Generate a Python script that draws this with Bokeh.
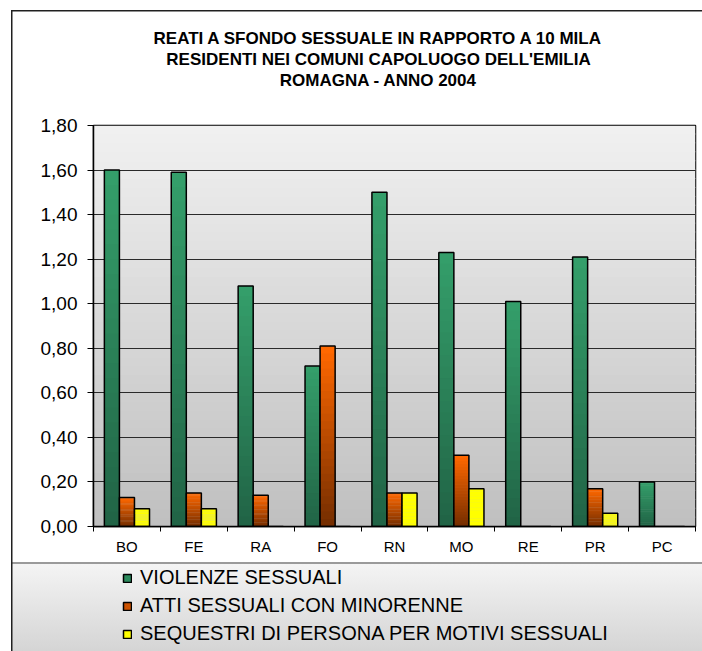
from bokeh.plotting import figure
from bokeh.layouts import column
from bokeh.models import (Range1d, FixedTicker, CustomJSTickFormatter, Label,
                          BoxAnnotation, Legend, LegendItem, ColumnDataSource)
from bokeh.core.properties import field
from bokeh.transform import dodge
from bokeh.embed import file_html
from bokeh.resources import INLINE

# ---------------- data ----------------
categories = ["BO", "FE", "RA", "FO", "RN", "MO", "RE", "PR", "PC"]
violenze_sessuali = [1.60, 1.59, 1.08, 0.72, 1.50, 1.23, 1.01, 1.21, 0.20]
atti_con_minorenne = [0.13, 0.15, 0.14, 0.81, 0.15, 0.32, 0.00, 0.17, 0.00]
sequestri_persona = [0.08, 0.08, 0.00, 0.00, 0.15, 0.17, 0.00, 0.06, 0.00]
series_names = ["VIOLENZE SESSUALI",
                "ATTI SESSUALI CON MINORENNE",
                "SEQUESTRI DI PERSONA PER MOTIVI SESSUALI"]
title_lines = ["REATI A SFONDO SESSUALE IN RAPPORTO A 10 MILA",
               "RESIDENTI NEI COMUNI CAPOLUOGO DELL'EMILIA",
               "ROMAGNA - ANNO 2004"]
y_ticks = [0.0, 0.2, 0.4, 0.6, 0.8, 1.0, 1.2, 1.4, 1.6, 1.8]

# ---------------- layout (page pixels) ----------------
W = 702
ML, MR = 93, 7                 # plot area spans x 93..695
T_H = 100                      # title strip   0..100
C_H, C_MT, C_MB = 462, 25, 36  # chart 100..562, plot area 125..526
L_H = 89                       # legend strip 562..651
FONT = "Liberation Sans"


def lerp(c0, c1, t):
    return "#%02x%02x%02x" % tuple(int(round(a + (b - a) * t)) for a, b in zip(c0, c1))


n = len(categories)
slot = [i + 0.5 for i in range(n)]   # category centre on a 0..n axis

LINE = "linear-gradient(#202020, #202020)"
bg_title = f"{LINE} 10.5px 9.5px / 1.5px 100% no-repeat, {LINE} 10.5px 9.5px / 100% 1.5px no-repeat, #ffffff"
bg_chart = f"{LINE} 10.5px 0px / 1.5px 100% no-repeat, #ffffff"
bg_leg = (f"{LINE} 10.5px 0px / 1.5px 100% no-repeat, "
          "linear-gradient(#9a9a9a, #9a9a9a) 12px 0px / 100% 2px no-repeat, "
          "linear-gradient(#f4f4f4, #d4d4d4) 12px 2px / 100% 100% no-repeat, #ffffff")

# ---------------- title strip ----------------
t = figure(width=W, height=T_H, x_range=Range1d(ML, W - MR), y_range=Range1d(T_H, 0),
           output_backend="svg", toolbar_location=None, title=None,
           x_axis_location=None, y_axis_location=None,
           min_border_left=ML, min_border_right=MR, min_border_top=0, min_border_bottom=0,
           border_fill_color=None, background_fill_color=None, outline_line_color=None,
           styles={"background": bg_title})
t.grid.visible = False
for line, yc in zip(title_lines, [38, 59, 80]):
    t.add_layout(Label(x=378, y=yc, text=line, text_align="center", text_baseline="middle",
                       text_font=FONT, text_font_style="bold", text_font_size="17px",
                       text_color="black"))

# ---------------- chart ----------------
p = figure(width=W, height=C_H, x_range=Range1d(0, n), y_range=Range1d(0, 1.8),
           output_backend="svg", toolbar_location=None, title=None,
           min_border_left=ML, min_border_right=MR, min_border_top=C_MT, min_border_bottom=C_MB,
           border_fill_color=None, background_fill_color="#d8d8d8",
           outline_line_color="black", outline_line_width=1.5,
           styles={"background": bg_chart})

NB = 45
for i in range(NB):
    y0 = 1.8 * i / NB
    y1 = 1.8 * (i + 1) / NB + 0.004
    p.add_layout(BoxAnnotation(bottom=y0, top=min(y1, 1.8),
                               fill_color=lerp((192, 192, 192), (240, 240, 240), i / (NB - 1)),
                               fill_alpha=1, line_color=None, level="image"))

p.yaxis.ticker = FixedTicker(ticks=y_ticks)
p.yaxis.formatter = CustomJSTickFormatter(code="return tick.toFixed(2).replace('.', ',');")
p.yaxis.major_tick_in = 0
p.yaxis.major_tick_out = 6
p.yaxis.minor_tick_line_color = None
p.yaxis.axis_line_color = "black"
p.yaxis.axis_line_width = 1.5
p.yaxis.major_tick_line_color = "black"
p.yaxis.major_label_standoff = 10
p.yaxis.major_label_text_font = FONT
p.yaxis.major_label_text_font_size = "19px"
p.yaxis.major_label_text_color = "black"

p.ygrid.ticker = FixedTicker(ticks=y_ticks)
p.ygrid.grid_line_color = "#2a2a2a"
p.ygrid.grid_line_width = 1
p.xgrid.visible = False

xaxis = p.xaxis[0]
xaxis.ticker = FixedTicker(ticks=slot, minor_ticks=list(range(n + 1)))
xaxis.formatter = CustomJSTickFormatter(args=dict(labels=categories),
                                        code="return labels[Math.floor(tick)];")
xaxis.major_tick_line_color = None
xaxis.major_tick_in = 0
xaxis.major_tick_out = 0
xaxis.minor_tick_in = 0
xaxis.minor_tick_out = 5
xaxis.minor_tick_line_color = "black"
xaxis.axis_line_color = "black"
xaxis.axis_line_width = 1.5
xaxis.major_label_standoff = 6
xaxis.major_label_text_font = FONT
xaxis.major_label_text_font_size = "15px"
xaxis.major_label_text_color = "black"

series = [
    (violenze_sessuali, -0.225, (52, 158, 106), (33, 100, 70), "#2b8a5c"),
    (atti_con_minorenne, 0.0, (255, 104, 0), (118, 46, 0), "#cc5200"),
    (sequestri_persona, 0.225, (255, 255, 0), (255, 255, 0), "#ffff00"),
]
BW = 0.225
NS = 24
for vals, off, ctop, cbot, cmid in series:
    src = ColumnDataSource(dict(cat=categories, pos=slot, val=vals))
    xs, bots, tops, cols = [], [], [], []
    for xp, v in zip(slot, vals):
        if v <= 0:
            continue
        for k in range(NS):
            xs.append(xp)
            bots.append(v * k / NS)
            tops.append(min(v, v * (k + 1) / NS + v * 0.01))
            cols.append(lerp(cbot, ctop, k / (NS - 1)))
    ssrc = ColumnDataSource(dict(pos=xs, b=bots, t=tops, c=cols))
    p.vbar(x=dodge("pos", off), bottom="b", top="t", width=BW, source=ssrc,
           fill_color=field("c"), line_color=None)
    p.vbar(x=dodge("pos", off), top="val", width=BW, source=src,
           fill_color=None, line_color="black", line_width=1.5)

# ---------------- legend strip ----------------
lg = figure(width=W, height=L_H, x_range=Range1d(0, n), y_range=Range1d(0, 1.8),
            output_backend="svg", toolbar_location=None, title=None,
            x_axis_location=None, y_axis_location=None,
            min_border_left=ML, min_border_right=MR, min_border_top=0, min_border_bottom=0,
            border_fill_color=None, background_fill_color=None, outline_line_color=None,
            styles={"background": bg_leg})
lg.grid.visible = False
items = []
for (vals, off, ctop, cbot, cmid), name in zip(series, series_names):
    src = ColumnDataSource(dict(cat=categories, pos=slot, val=vals))
    r = lg.vbar(x=dodge("pos", off), top="val", width=BW, source=src, visible=False,
                fill_color=cmid, line_color="black", line_width=1.5)
    items.append(LegendItem(label=name, renderers=[r]))
legend = Legend(items=items, location=(29, 5), orientation="vertical",
                padding=0, margin=0, spacing=3, glyph_width=10, glyph_height=10,
                label_standoff=8, label_height=25,
                label_text_font=FONT, label_text_font_size="20px",
                label_text_color="black",
                inactive_fill_alpha=0,
                background_fill_alpha=0, border_line_color=None)
lg.add_layout(legend, "center")

layout = column(t, p, lg, spacing=0)
open("out.html", "w").write(file_html(layout, INLINE))
